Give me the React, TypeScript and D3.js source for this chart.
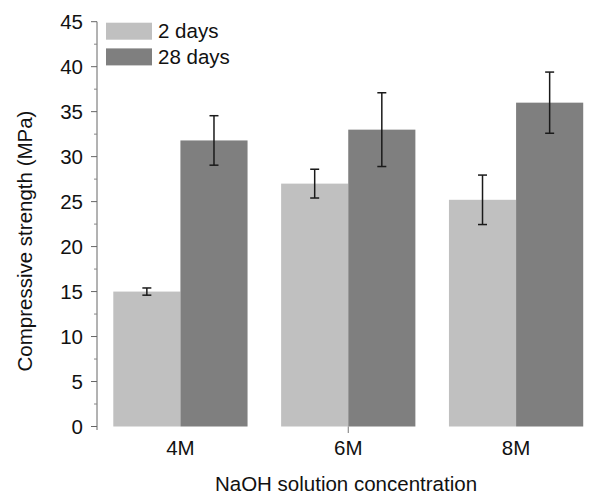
import React from 'react';
import * as d3 from 'd3';

const categories = ['4M', '6M', '8M'];
const seriesNames = ['2 days', '28 days'];
const values2d = [15.0, 27.0, 25.2];
const values28d = [31.8, 33.0, 36.0];
const errors2d = [0.4, 1.6, 2.75];
const errors28d = [2.75, 4.1, 3.4];
const yTicks = [0, 5, 10, 15, 20, 25, 30, 35, 40, 45];
const yMinorTicks = [2.5, 7.5, 12.5, 17.5, 22.5, 27.5, 32.5, 37.5, 42.5];

const colors = ['#c0c0c0', '#7f7f7f'];
const font = '"Liberation Sans", Arial, sans-serif';
const fs = 20.5;

const W = 590;
const H = 495;
const axisX = 97;
const yTop = 21.7;
const yBottom = 426.5;

const App = () => {
  const x = d3.scaleBand().domain(categories).range([axisX - 0.5, 600]).paddingInner(0.2).paddingOuter(0.1);
  const xSub = d3.scaleBand().domain(seriesNames).range([0, x.bandwidth()]);
  const y = d3.scaleLinear().domain([0, 45]).range([yBottom, yTop]);

  const rows = categories.map((c, i) => ({
    cat: c,
    bars: [
      { name: seriesNames[0], v: values2d[i], e: errors2d[i] },
      { name: seriesNames[1], v: values28d[i], e: errors28d[i] },
    ],
  }));

  return (
    <svg width={W} height={H} style={{ position: 'absolute', left: 0, top: 0, background: '#fff' }} fontFamily={font}>
      {rows.map((r) => (
        <g key={r.cat} transform={`translate(${x(r.cat)},0)`}>
          {r.bars.map((b, j) => (
            <rect key={b.name} x={xSub(b.name)} y={y(b.v)} width={xSub.bandwidth()} height={y(0) - y(b.v)} fill={colors[j]} />
          ))}
          {r.bars.map((b) => {
            const cx = (xSub(b.name) as number) + xSub.bandwidth() / 2;
            return (
              <g key={b.name + 'e'} stroke="#1a1a1a" strokeWidth={1.5}>
                <line x1={cx} x2={cx} y1={y(b.v + b.e)} y2={y(b.v - b.e)} />
                <line x1={cx - 4.5} x2={cx + 4.5} y1={y(b.v + b.e)} y2={y(b.v + b.e)} />
                <line x1={cx - 4.5} x2={cx + 4.5} y1={y(b.v - b.e)} y2={y(b.v - b.e)} />
              </g>
            );
          })}
          <text x={x.bandwidth() / 2} y={455} textAnchor="middle" fontSize={fs} fill="#111">{r.cat}</text>
        </g>
      ))}
      {/* lone tick under 6M */}
      <line x1={(x('6M') as number) + x.bandwidth() / 2} x2={(x('6M') as number) + x.bandwidth() / 2} y1={yBottom} y2={433} stroke="#777" />

      {/* y axis */}
      <line x1={axisX} x2={axisX} y1={yTop} y2={430} stroke="#666" strokeWidth={1} />
      {yTicks.map((t) => (
        <g key={t}>
          <line x1={axisX - 6} x2={axisX} y1={y(t)} y2={y(t)} stroke="#666" />
          <text x={83} y={y(t)} dy="0.35em" textAnchor="end" fontSize={fs} fill="#111">{t}</text>
        </g>
      ))}
      {yMinorTicks.map((t) => (
        <line key={t} x1={axisX - 3} x2={axisX} y1={y(t)} y2={y(t)} stroke="#888" />
      ))}
      <text transform={`translate(25,${241}) rotate(-90)`} textAnchor="middle" dy="0.35em" fontSize={fs} fill="#111">
        Compressive strength (MPa)
      </text>
      <text x={346} y={491} textAnchor="middle" fontSize={fs} fill="#111">NaOH solution concentration</text>

      {/* legend */}
      {seriesNames.map((s, i) => (
        <g key={s} transform={`translate(106,${22.7 + i * 25.7})`}>
          <rect width={46} height={17} fill={colors[i]} />
          <text x={52} y={8.5} dy="0.35em" fontSize={fs} fill="#111">{s}</text>
        </g>
      ))}
    </svg>
  );
};

export default App;
